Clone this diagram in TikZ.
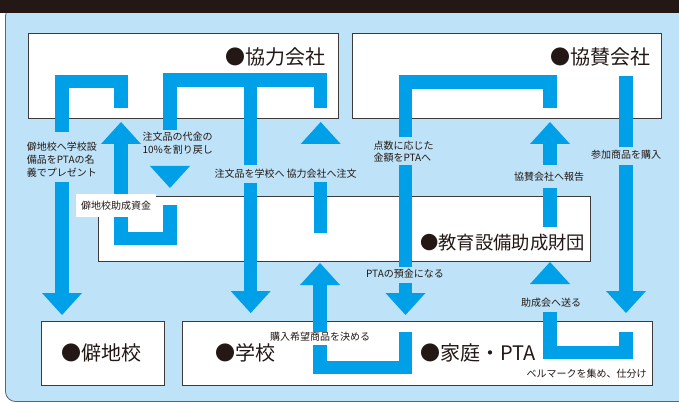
\documentclass[tikz,border=0pt]{standalone}
\usepackage{fontspec}
\setmainfont{Noto Sans CJK JP}
\usetikzlibrary{calc}
\definecolor{panelblue}{RGB}{190,227,248}
\definecolor{flowblue}{RGB}{0,160,233}
\definecolor{ink}{RGB}{35,24,21}
\definecolor{boxline}{RGB}{62,58,57}
\definecolor{panelline}{RGB}{100,100,100}
\begin{document}
\begin{tikzpicture}[x=1pt,y=-1pt,
  shaft/.style={draw=flowblue, line width=13.3pt},
  boxnode/.style={draw=boxline, line width=1pt, fill=white, inner sep=0pt, anchor=north west},
  small/.style={inner sep=0pt, text=ink, font=\fontsize{10}{13}\selectfont},
  big/.style={inner sep=0pt, text=ink, font=\fontsize{20}{24}\selectfont},
  dhead/.pic={\fill[flowblue] (-20,-22) -- (20,-22) -- (0,0) -- cycle;},
  uhead/.pic={\fill[flowblue] (-20,22) -- (20,22) -- (0,0) -- cycle;}
]
\useasboundingbox (0,0) rectangle (679,403);
\clip (0,0) rectangle (679,403);
% panel and banner
\draw[fill=panelblue, draw=panelline, line width=0.8pt, rounded corners=10pt] (5.5,6) rectangle (700,401.5);
\fill[ink] (0,0) rectangle (679,13.5);
% boxes
\node[boxnode, minimum width=310pt, minimum height=85pt] (kyoryoku) at (28,33) {};
\node[boxnode, minimum width=309pt, minimum height=85pt] (kyosan) at (352,33) {};
\node[boxnode, minimum width=492pt, minimum height=65pt] (zaidan) at (98,196) {};
\node[boxnode, minimum width=123pt, minimum height=64pt] (hekichi) at (41,321) {};
\node[boxnode, minimum width=470pt, minimum height=64pt] (gakko) at (182,321) {};
% coordinates
\coordinate (a0) at (121,108); \coordinate (a1) at (121,81.5); \coordinate (a2) at (62,81.5);
\coordinate (a3) at (62,132); \coordinate (a4) at (62,182); \coordinate (aT) at (62,315);
\coordinate (b0) at (170,205); \coordinate (b1) at (170,238.5); \coordinate (b2) at (121,238.5); \coordinate (bT) at (121,122);
\coordinate (c0) at (170,130); \coordinate (c1) at (170,80); \coordinate (c2) at (320.7,80); \coordinate (c3) at (320.7,108);
\coordinate (cm0) at (250.7,80); \coordinate (cm1) at (250.7,165); \coordinate (cm2) at (250.7,183); \coordinate (cmT) at (250.7,313);
\coordinate (c10T) at (170,188);
\coordinate (d0) at (320.7,233); \coordinate (d1) at (320.7,182); \coordinate (dT) at (320.7,122);
\coordinate (e0) at (550,108); \coordinate (e1) at (550,82); \coordinate (e2) at (405.5,82); \coordinate (e3) at (405.5,137);
\coordinate (e4) at (405.5,165); \coordinate (e5) at (405.5,267); \coordinate (e6) at (405.5,283); \coordinate (eT) at (405.5,315);
\coordinate (f0) at (550,227); \coordinate (f1) at (550,188); \coordinate (f2) at (550,165); \coordinate (fT) at (550,122);
\coordinate (g0) at (626,76); \coordinate (g1) at (626,147); \coordinate (g2) at (626,165); \coordinate (gT) at (626,313);
\coordinate (h0) at (626,332); \coordinate (h1) at (626,352.5); \coordinate (h2) at (550,352.5); \coordinate (h3) at (550,312); \coordinate (hT) at (550,262);
\coordinate (i0) at (405.5,332); \coordinate (i1) at (405.5,367.5); \coordinate (i2) at (320,367.5); \coordinate (i3) at (320,345);
\coordinate (i4) at (320,332); \coordinate (iT) at (320,263);
% flows
\draw[shaft] (a0) -- (a1) -- (a2) -- (a3);
\draw[shaft] (a4) -- ($(aT)+(0,-21)$); \pic at (aT) {dhead};
\draw[shaft] (b0) -- (b1) -- (b2) -- ($(bT)+(0,21)$); \pic at (bT) {uhead};
\draw[shaft] (c0) -- (c1) -- (c2) -- (c3);
\draw[shaft] (cm0) -- (cm1);
\draw[shaft] (cm2) -- ($(cmT)+(0,-21)$); \pic at (cmT) {dhead};
\pic at (c10T) {dhead};
\draw[shaft] (d0) -- (d1); \pic at (dT) {uhead};
\draw[shaft] (e0) -- (e1) -- (e2) -- (e3);
\draw[shaft] (e4) -- (e5);
\draw[shaft] (e6) -- ($(eT)+(0,-21)$); \pic at (eT) {dhead};
\draw[shaft] (f0) -- (f1);
\draw[shaft] (f2) -- ($(fT)+(0,21)$); \pic at (fT) {uhead};
\draw[shaft] (g0) -- (g1);
\draw[shaft] (g2) -- ($(gT)+(0,-21)$); \pic at (gT) {dhead};
\draw[shaft] (h0) -- (h1) -- (h2) -- (h3); \pic at (hT) {uhead};
\draw[shaft] (i0) -- (i1) -- (i2) -- (i3);
\draw[shaft] (i4) -- ($(iT)+(0,21)$); \pic at (iT) {uhead};
% small labels
\node[small, align=left, anchor=west] (lblPresent) at (26.7,160) {僻地校へ学校設\\備品をPTAの名\\義でプレゼント};
\node[small, align=center] (lblRebate) at (177.7,143.5) {注文品の代金の\\10\%を割り戻し};
\node[small] (lblToSchool) at (249.5,174) {注文品を学校へ};
\node[small] (lblOrder) at (321.5,174) {協力会社へ注文};
\node[small, align=left, anchor=west, font=\fontsize{10}{12}\selectfont] (lblPoints) at (373.3,152) {点数に応じた\\金額をPTAへ};
\node[small] (lblReport) at (549,177) {協賛会社へ報告};
\node[small] (lblBuy) at (626,155) {参加商品を購入};
\node[small] (lblDeposit) at (405,274) {PTAの預金になる};
\node[small] (lblSend) at (551,303) {助成会へ送る};
\node[small] (lblWish) at (320,337) {購入希望商品を決める};
\node[small] (lblCollect) at (586.5,374) {ベルマークを集め、仕分け};
\node[small, fill=white, minimum width=80pt, minimum height=23pt] (lblFund) at (116,205.5) {僻地校助成資金};
% titles
\node[big, anchor=east] (tKyoryoku) at (326,57) {●協力会社};
\node[big, anchor=east] (tKyosan) at (650.5,57) {●協賛会社};
\node[big, anchor=west, font=\fontsize{18.3}{22}\selectfont] (tZaidan) at (420,243) {●教育設備助成財団};
\node[big, anchor=west] (tHeki) at (61,353) {●僻地校};
\node[big, anchor=west] (tGakko) at (215,353) {●学校};
\node[big, anchor=west] (tKatei) at (420,353) {●家庭・PTA};
\end{tikzpicture}
\end{document}
